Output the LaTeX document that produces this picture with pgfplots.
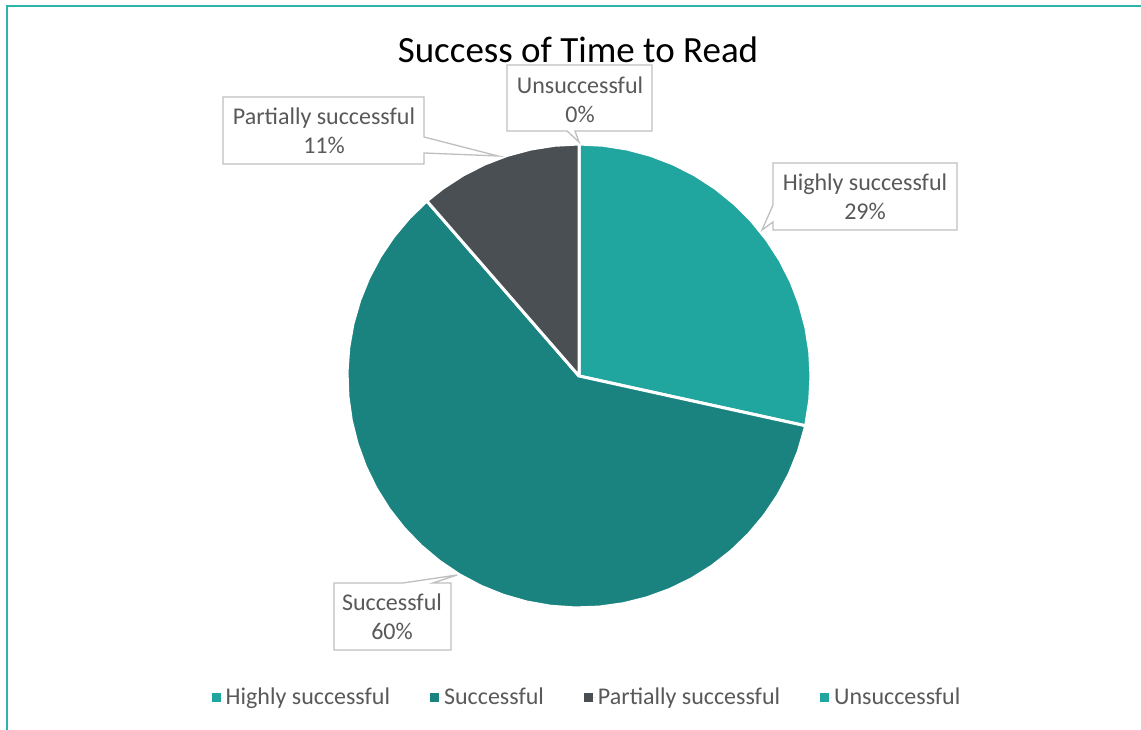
\documentclass[border=0pt]{standalone}
\usepackage{fontspec}
\setmainfont{Carlito}
\usepackage{pgfplots}
\pgfplotsset{compat=1.18}

\definecolor{hi}{HTML}{21A59F}
\definecolor{su}{HTML}{1B837F}
\definecolor{pa}{HTML}{4A4F54}
\definecolor{un}{HTML}{21A59F}
\definecolor{txt}{HTML}{595959}
\definecolor{boxline}{HTML}{BFBFBF}
\definecolor{frame}{HTML}{2DB3AA}

\begin{document}
\begin{tikzpicture}
% 1 unit = 1 px of the reference, origin at the pie centre
\begin{axis}[
    x=1pt, y=1pt, scale only axis,
    xmin=-579, xmax=562, ymin=-354, ymax=376,
    hide axis, clip=false,
    legend columns=4,
    legend style={draw=none, fill=none, at={(0.5145,0.0452)}, anchor=center,
        font=\fontsize{24}{28}\selectfont, text=txt, inner sep=0pt,
        /tikz/every even column/.append style={column sep=38pt}},
    legend image code/.code={\fill[#1,draw=none] (0pt,-4.5pt) rectangle (9pt,4.5pt);
        \path[draw=none] (0pt,0pt) -- (12pt,0pt);},
    every axis plot/.append style={draw=white, line width=3pt, line join=round},
]
% slices (angle, radius): 28.4% / 60.2% / 11.4% / 0%, clockwise from 90 deg
\addplot[fill=hi, data cs=polar] coordinates {
    (0,0) (90,232) (84,232) (78,232) (72,232) (66,232) (60,232) (54,232)
    (48,232) (42,232) (36,232) (30,232) (24,232) (18,232) (12,232) (6,232)
    (0,232) (-6,232) (-12,232) (-12.4,232)
} -- cycle;
\addlegendentry{Highly successful}
\addplot[fill=su, data cs=polar] coordinates {
    (0,0) (131,232) (137,232) (143,232) (149,232) (155,232) (161,232) (167,232)
    (173,232) (179,232) (185,232) (191,232) (197,232) (203,232) (209,232)
    (215,232) (221,232) (227,232) (233,232) (239,232) (245,232) (251,232)
    (257,232) (263,232) (269,232) (275,232) (281,232) (287,232) (293,232)
    (299,232) (305,232) (311,232) (317,232) (323,232) (329,232) (335,232)
    (341,232) (347,232) (347.6,232)
} -- cycle;
\addlegendentry{Successful}
\addplot[fill=pa, data cs=polar] coordinates {
    (0,0) (90,232) (96,232) (102,232) (108,232) (114,232) (120,232) (126,232) (131,232)
} -- cycle;
\addlegendentry{Partially successful}
\addplot[fill=un, draw=none, data cs=polar] coordinates {(0,0) (90,0)};
\addlegendentry{Unsuccessful}

% frame
\draw[frame, line width=2pt] (axis cs:-572.5,-354) -- (axis cs:-572.5,369.5) -- (axis cs:562,369.5);

% title
\node[font=\fontsize{37}{44}\selectfont, text=black] at (axis cs:-1,326) {Success of Time to Read};

% callouts
\tikzset{callout/.style={draw=boxline, fill=white, line width=1.3pt, line join=miter},
         ctext/.style={font=\fontsize{24}{29}\selectfont, text=txt, align=center}}
\draw[callout] (axis cs:-72,311) -- (axis cs:73,311) -- (axis cs:73,245) -- (axis cs:-4,245)
    -- (axis cs:0,234) -- (axis cs:-12,245) -- (axis cs:-72,245) -- cycle;
\node[ctext] at (axis cs:1,276) {Unsuccessful\\0\%};

\draw[callout] (axis cs:-356,279) -- (axis cs:-155,279) -- (axis cs:-155,239) -- (axis cs:-81,220)
    -- (axis cs:-155,223) -- (axis cs:-155,212) -- (axis cs:-356,212) -- cycle;
\node[ctext] at (axis cs:-255,245) {Partially successful\\11\%};

\draw[callout] (axis cs:194,213) -- (axis cs:378,213) -- (axis cs:378,146) -- (axis cs:194,146)
    -- (axis cs:194,154) -- (axis cs:183,146) -- (axis cs:194,171) -- cycle;
\node[ctext] at (axis cs:286,179) {Highly successful\\29\%};

\draw[callout] (axis cs:-245,-207) -- (axis cs:-176,-207) -- (axis cs:-122,-199) -- (axis cs:-146,-207)
    -- (axis cs:-128,-207) -- (axis cs:-128,-274) -- (axis cs:-245,-274) -- cycle;
\node[ctext] at (axis cs:-187,-241) {Successful\\60\%};

\coordinate (bl) at (axis cs:-579,-354);
\coordinate (tr) at (axis cs:562,376);
\end{axis}
\pgfresetboundingbox
\useasboundingbox (bl) rectangle (tr);
\end{tikzpicture}
\end{document}
